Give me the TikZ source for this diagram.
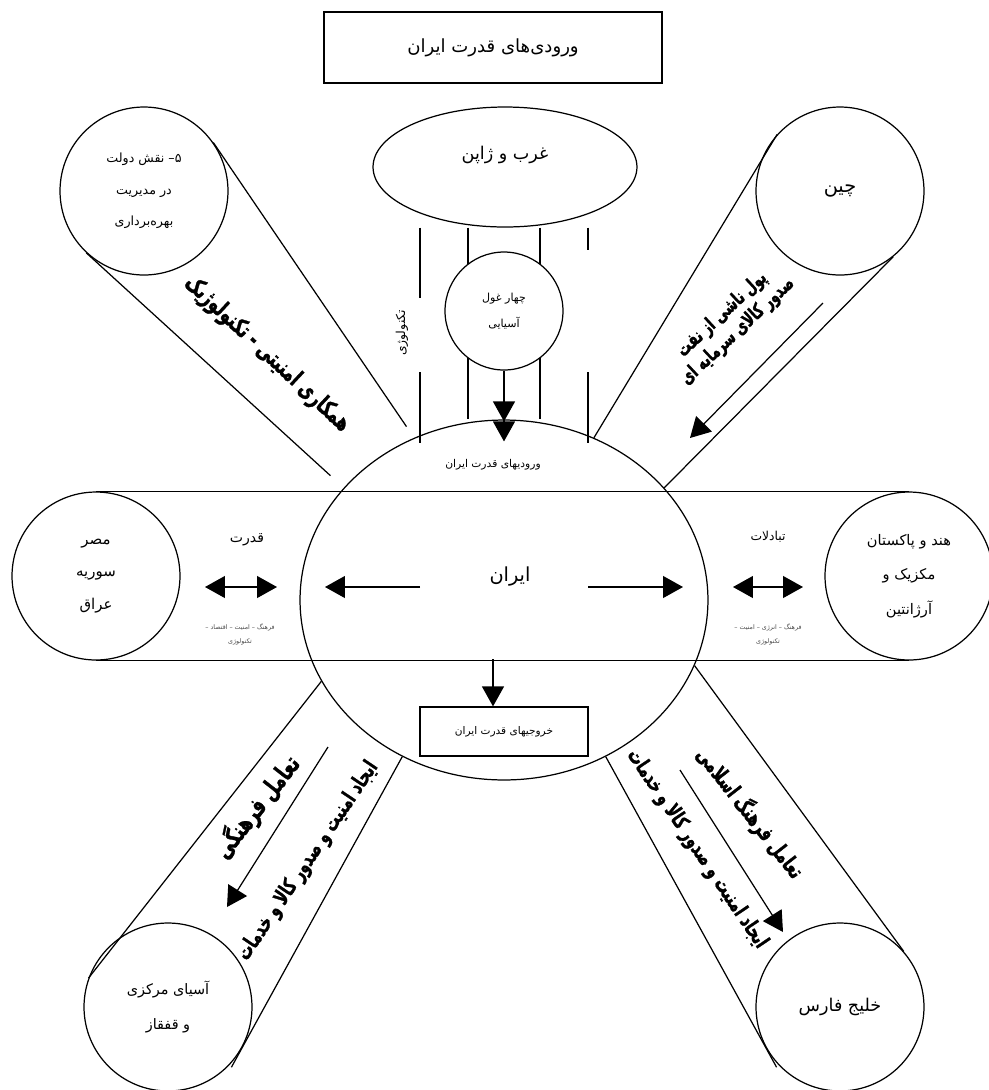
\documentclass[tikz,border=0pt]{standalone}
\usepackage{fontspec}
\newfontfamily\fafont[Script=Arabic]{DejaVu Sans}
\newfontfamily\faslogan[Script=Arabic, FakeStretch=0.68, FakeBold=1.2]{DejaVu Sans Bold}
\TeXXeTstate=1
\usepackage{tikz}
\usetikzlibrary{shapes.geometric, arrows.meta, positioning, calc}
\newcommand{\fa}[1]{\beginR#1\endR}
\newcommand{\fsz}[2]{\fontsize{#1}{#2}\selectfont}
\tikzset{
  country/.style={
    circle, draw, fill=white, line width=0.7pt,
    minimum size=3.36cm, inner sep=0pt, align=center
  },
  hub/.style={
    ellipse, draw, line width=0.7pt, inner sep=0pt
  },
  titlebox/.style={
    rectangle, draw, line width=0.7pt, align=center
  },
  pipe/.style={line width=0.7pt},
  arrow/.style={line width=0.7pt, -{Triangle[length=0.4cm,width=0.44cm]}},
  twoway/.style={line width=0.7pt,
    {Triangle[length=0.4cm,width=0.44cm]}-{Triangle[length=0.4cm,width=0.44cm]}},
  slogan/.style={align=center, inner sep=0pt},
  smallnote/.style={font=\fafont\fsz{3.6}{8}, text=black!70, align=center},
}

\begin{document}
\begin{tikzpicture}[x=0.02cm, y=-0.02cm, font=\fafont]
  \useasboundingbox (0,0) rectangle (989,1090);

  % boxes and outer circles
  \node (title)  [titlebox, minimum width=6.76cm, minimum height=1.42cm, font=\fafont\fsz{10.3}{12}] at (493,47.5) {\fa{ورودی‌های قدرت ایران}};
  \node (west)   [hub, minimum width=5.28cm, minimum height=2.4cm] at (505,167) {};
  \node (westtxt) [font=\fafont\fsz{10}{12}] at (505,155) {\fa{غرب و ژاپن}};
  \node (gov)    [country, font=\fafont\fsz{7.2}{18}] at (144,191) {\fa{۵– نقش دولت}\\\fa{در مدیریت}\\\fa{بهره‌برداری}};
  \node (chin)   [country, font=\fafont\fsz{11}{14}] at (840,191) {\fa{چین}};
  \node (mesr)   [country, font=\fafont\fsz{8.5}{18.5}] at (96,576) {\fa{مصر}\\\fa{سوریه}\\\fa{عراق}};
  \node (hend)   [country, font=\fafont\fsz{8.3}{19.5}] at (909,576) {\fa{هند و پاکستان}\\\fa{مکزیک و}\\\fa{آرژانتین}};
  \node (asia)   [country, font=\fafont\fsz{8.2}{20}] at (168,1007) {\fa{آسیای مرکزی}\\\fa{و قفقاز}};
  \node (khalij) [country, font=\fafont\fsz{10}{12}] at (840,1007) {\fa{خلیج فارس}};
  \node (outbox) [titlebox, minimum width=3.36cm, minimum height=0.98cm, font=\fafont\fsz{6}{8}] at (504,731.5) {\fa{خروجیهای قدرت ایران}};

  % horizontal tube, partly hidden under the labels
  \draw[pipe] (mesr.north) -- (hend.north);
  \draw[pipe] (mesr.south) -- (hend.south);
  \fill[white] (422,440) rectangle (565,491);
  \fill[white] (183,500) rectangle (302,659);
  \fill[white] (708,500) rectangle (824,659);

  \node (iran) [hub, minimum width=8.16cm, minimum height=7.2cm] at (504,600) {};

  % tubes to the centre
  \draw[pipe, shorten >=0.27cm] (gov.35) -- (iran.119);
  \draw[pipe, shorten >=0.36cm] (gov.227) -- (iran.145);
  \draw[pipe] (chin.138) -- (iran.61);
  \draw[pipe] (chin.309) -- (iran.35);
  \draw[pipe] (asia.160) -- (iran.204);
  \draw[pipe, shorten <=-0.44cm] (asia.331) -- (iran.237);
  \draw[pipe] (khalij.41) -- (iran.341);
  \draw[pipe, shorten <=-0.44cm] (khalij.209) -- (iran.303);

  % lines from the west
  \draw[pipe] (420,0 |- west.south) -- (420,298);
  \draw[pipe] (420,372) -- (420,443);
  \draw[pipe] (588,0 |- west.south) -- (588,250);
  \draw[pipe] (588,372) -- (588,443);
  \draw[pipe] (468,0 |- west.south) -- (468,0 |- iran.north);
  \draw[pipe] (540,0 |- west.south) -- (540,0 |- iran.north);
  \node (four) [country, minimum size=2.36cm, font=\fafont\fsz{6.3}{15}] at (504,311) {\fa{چهار غول}\\\fa{آسیایی}};
  \draw[line width=0.7pt, -{Triangle[length=0.4cm,width=0.44cm]Triangle[length=0.4cm,width=0.44cm]}] (four.south) -- ([yshift=-0.44cm]iran.north);
  \node (tech) [rotate=90, fill=white, font=\fafont\fsz{7}{9}] at (402,333) {\fa{تکنولوژی}};

  % labels inside the centre
  \node (irantxt) [font=\fafont\fsz{11}{13}] at (510,577) {\fa{ایران}};
  \node (intxt)   [font=\fafont\fsz{6.1}{8}] at (493,465) {\fa{ورودیهای قدرت ایران}};
  \node (power)   [font=\fafont\fsz{8}{10}] at (247,540) {\fa{قدرت}};
  \node (powernote) [smallnote] at (240,634) {\fa{فرهنگ – امنیت – اقتصاد –}\\\fa{تکنولوژی}};
  \node (trade)   [font=\fafont\fsz{7}{9}] at (768,537) {\fa{تبادلات}};
  \node (tradenote) [smallnote] at (768,634) {\fa{فرهنگ – انرژی – امنیت –}\\\fa{تکنولوژی}};

  % arrows
  \coordinate (midL)  at (420,587);
  \coordinate (midLt) at (325,587);
  \coordinate (midR)  at (588,587);
  \coordinate (midRt) at (683,587);
  \coordinate (powerA) at (205,587);
  \coordinate (powerB) at (277,587);
  \coordinate (tradeA) at (733,587);
  \coordinate (tradeB) at (803,587);
  \coordinate (chinA)  at (823,303);
  \coordinate (chinB)  at (690,438);
  \coordinate (asiaA)  at (328,747);
  \coordinate (asiaB)  at (227,907);
  \coordinate (khalijA) at (680,770);
  \coordinate (khalijB) at (783,932);
  \coordinate (outtop) at (493,659);
  \draw[arrow] (midL) -- (midLt);
  \draw[arrow] (midR) -- (midRt);
  \draw[twoway] (powerA) -- (powerB);
  \draw[twoway] (tradeA) -- (tradeB);
  \draw[arrow] (chinA) -- (chinB);
  \draw[arrow] (asiaA) -- (asiaB);
  \draw[arrow] (khalijA) -- (khalijB);
  \draw[arrow] (outtop) -- (outtop |- outbox.north);

  % slogans along the tubes
  \node (govslogan) [slogan, rotate=-43, font=\faslogan\fsz{13.5}{15}] at (267,354) {\fa{همکاری امنیتی - تکنولوژیک}};
  \node (chinslogan) [slogan, rotate=43, font=\faslogan\fsz{11}{13}] at (730,323) {\fa{پول ناشی از نفت}\\\fa{صدور کالای سرمایه ای}};
  \node (asiaslogan) [slogan, rotate=52, font=\faslogan\fsz{14.3}{16}] at (257,807) {\fa{تعامل فرهنگی}};
  \node (asiaslogan2) [slogan, rotate=56, font=\faslogan\fsz{12.1}{14}] at (308,861) {\fa{ایجاد امنیت و صدور کالا و خدمات}};
  \node (khalijslogan) [slogan, rotate=-52, font=\faslogan\fsz{12.5}{14}] at (750,813) {\fa{تعامل فرهنگ اسلامی}};
  \node (khalijslogan2) [slogan, rotate=-56, font=\faslogan\fsz{12.1}{14}] at (697,849) {\fa{ایجاد امنیت و صدور کالا و خدمات}};
\end{tikzpicture}
\end{document}
